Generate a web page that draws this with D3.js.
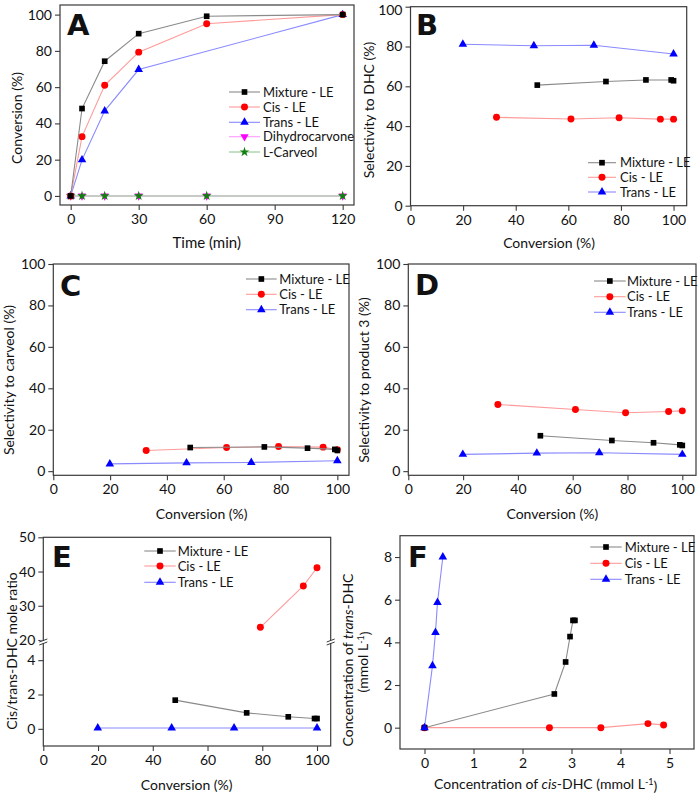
<!DOCTYPE html>
<html><head><meta charset="utf-8">
<script src="https://cdn.jsdelivr.net/npm/d3@7"></script>
<style>
body{margin:0;background:#fff;}
text{font-family:Lato,"Open Sans",sans-serif;fill:#111;}
</style></head>
<body>
<script>
// ---------- DATA ----------
// Panel A: conversion vs time
const timeA = [0, 5, 15, 30, 60, 120];
const timeTransA = [0, 5, 15, 30, 120];
const convMixA = [0, 48.2, 74.3, 89.5, 99.1, 100];
const convCisA = [0, 32.7, 61, 79.3, 95, 100];
const convTransA = [0, 19.9, 46.9, 69.7, 100];
const dhcA = [0, 0, 0, 0, 0, 0];
const carveolA = [0, 0, 0, 0, 0, 0];

// Conversion (x) for panels B–E
const convMix = [48.2, 74.3, 89.5, 99.1, 100];
const convCis = [32.7, 61, 79.3, 95, 100];
const convTrans = [19.9, 46.9, 69.7, 100];

// Panel B: selectivity to DHC
const selDhcMix = [60.6, 62.4, 63.2, 63.2, 62.8];
const selDhcCis = [44.4, 43.6, 44.2, 43.5, 43.5];
const selDhcTrans = [81.1, 80.4, 80.6, 76.2];

// Panel C: selectivity to carveol
const selCarMix = [11.4, 11.7, 11.1, 10.5, 10.0];
const selCarCis = [10.0, 11.4, 11.9, 11.6, 10.3];
const selCarTrans = [3.5, 4.0, 4.2, 5.0];

// Panel D: selectivity to product 3
const selP3Mix = [17.1, 14.8, 13.7, 12.7, 12.4];
const selP3Cis = [32.2, 29.8, 28.2, 28.8, 29.1];
const selP3Trans = [8.1, 8.7, 8.9, 8.1];

// Panel E: cis/trans-DHC mole ratio
const convCisE = [79.3, 95, 100];
const ratioMix = [1.67, 0.93, 0.70, 0.60, 0.60];
const ratioCis = [23.7, 35.8, 41.1];
const ratioTrans = [0.05, 0.05, 0.05, 0.05];

// Panel F: concentrations (mmol/L)
const cisDhcMix = [0, 2.65, 2.88, 2.97, 3.03, 3.07];
const transDhcMix = [0, 1.58, 3.08, 4.27, 5.03, 5.03];
const cisDhcCis = [0, 2.55, 3.6, 4.56, 4.88];
const transDhcCis = [0, 0, 0, 0.19, 0.13];
const cisDhcTrans = [0, 0.163, 0.224, 0.265, 0.374];
const transDhcTrans = [0, 2.9, 4.46, 5.87, 8.0];

// Tick values
const ticksTime = [0, 30, 60, 90, 120];
const ticksPct = [0, 20, 40, 60, 80, 100];
const ticksEUpper = [20, 30, 40, 50];
const ticksELower = [0, 2, 4];
const ticksFx = [0, 1, 2, 3, 4, 5];
const ticksFy = [0, 2, 4, 6, 8];

const seriesNames = ["Mixture - LE", "Cis - LE", "Trans - LE"];
const seriesNamesA = ["Mixture - LE", "Cis - LE", "Trans - LE", "Dihydrocarvone", "L-Carveol"];

// ---------- STYLE ----------
const STY = {
  mix:   {line: "#8a8a8a", fill: "#000000", sym: d3.symbolSquare, size: 32, rot: 0},
  cis:   {line: "#ff9a9a", fill: "#ff0000", sym: d3.symbolCircle, size: 38, rot: 0},
  trans: {line: "#8a8aff", fill: "#0000ff", sym: d3.symbolTriangle, size: 32, rot: 0},
  dhc:   {line: "#ff9aff", fill: "#ff00ff", sym: d3.symbolTriangle, size: 30, rot: 180},
  car:   {line: "#90c890", fill: "#108010", sym: d3.symbolStar, size: 30, rot: 0}
};
const FRAME = "#3a3a3a";

const svg = d3.select("body").append("svg").attr("width", 698).attr("height", 794);

function zip(a, b) { return a.map((v, i) => [v, b[i]]); }

function styleAxis(sel) {
  sel.select(".domain").remove();
  sel.selectAll(".tick line").attr("stroke", FRAME).attr("stroke-width", 1.1);
  sel.selectAll(".tick text").style("font-size", "14px").style("font-family", "Lato, sans-serif").attr("fill", "#111");
}

function drawSeries(g, x, y, pts, st) {
  g.append("path").datum(pts)
    .attr("fill", "none").attr("stroke", st.line).attr("stroke-width", 1.1)
    .attr("d", d3.line().x(d => x(d[0])).y(d => y(d[1])));
  g.selectAll(null).data(pts).enter().append("path")
    .attr("d", d3.symbol().type(st.sym).size(st.size))
    .attr("fill", st.fill)
    .attr("transform", d => `translate(${x(d[0])},${y(d[1])}) rotate(${st.rot})`);
}

function drawLegend(g, lg, names, styles) {
  names.forEach((n, i) => {
    const st = styles[i], yy = lg.rows[i];
    g.append("line").attr("x1", lg.x1).attr("x2", lg.x2).attr("y1", yy).attr("y2", yy)
      .attr("stroke", st.line).attr("stroke-width", 1.1);
    g.append("path").attr("d", d3.symbol().type(st.sym).size(st.size))
      .attr("fill", st.fill)
      .attr("transform", `translate(${(lg.x1 + lg.x2) / 2},${yy}) rotate(${st.rot})`);
    g.append("text").attr("x", lg.tx).attr("y", yy).attr("dy", "0.36em")
      .style("font-size", "13px").text(n);
  });
}

function letter(g, t, x, y) {
  g.append("text").attr("x", x).attr("y", y).text(t)
    .style("font-family", "'DejaVu Sans', sans-serif").style("font-weight", "bold")
    .style("font-size", "29px").attr("fill", "#000");
}

function yTitle(g, cx, cy, build, fs) {
  const t = g.append("text").attr("transform", `translate(${cx},${cy}) rotate(-90)`)
    .attr("text-anchor", "middle").attr("dy", "0.35em").style("font-size", (fs || 14) + "px");
  build(t);
}
function xTitle(g, cx, cy, build, fs) {
  const t = g.append("text").attr("x", cx).attr("y", cy)
    .attr("text-anchor", "middle").attr("dy", "0.35em").style("font-size", (fs || 14) + "px");
  build(t);
}

function basePanel(p) {
  const g = svg.append("g");
  const x = d3.scaleLinear().domain(p.xDomain).range([p.L, p.R]);
  const y = d3.scaleLinear().domain(p.yDomain).range([p.B, p.T]);
  g.append("rect").attr("x", p.L).attr("y", p.T).attr("width", p.R - p.L).attr("height", p.B - p.T)
    .attr("fill", "none").attr("stroke", FRAME).attr("stroke-width", 1.2);
  g.append("g").attr("transform", `translate(0,${p.B})`)
    .call(d3.axisBottom(x).tickValues(p.xTicks).tickSize(5).tickPadding(4).tickFormat(d3.format("d")))
    .call(styleAxis);
  const ya = g.append("g").attr("transform", `translate(${p.L},0)`)
    .call(d3.axisLeft(y).tickValues(p.yTicks).tickSize(5).tickPadding(3).tickFormat(d3.format("d")))
    .call(styleAxis);
  return {g, x, y, ya};
}

// ---------- PANEL A ----------
(function () {
  const {g, x, y} = basePanel({L: 60, R: 354, T: 5, B: 205, xDomain: [-4.72, 125], yDomain: [-5, 105.3],
    xTicks: ticksTime, yTicks: ticksPct});
  drawSeries(g, x, y, zip(timeA, dhcA), STY.dhc);
  drawSeries(g, x, y, zip(timeA, carveolA), STY.car);
  drawSeries(g, x, y, zip(timeTransA, convTransA), STY.trans);
  drawSeries(g, x, y, zip(timeA, convCisA), STY.cis);
  drawSeries(g, x, y, zip(timeA, convMixA), STY.mix);
  drawLegend(g, {x1: 229, x2: 260, tx: 263, rows: [92, 107, 122.3, 136.7, 152]}, seriesNamesA,
    [STY.mix, STY.cis, STY.trans, STY.dhc, STY.car]);
  letter(g, "A", 67, 35);
  yTitle(g, 17, 118, t => t.text("Conversion (%)"));
  xTitle(g, 206.7, 243, t => t.text("Time (min)"), 15);
})();

// ---------- PANEL B ----------
(function () {
  const {g, x, y, ya} = basePanel({L: 410.5, R: 686.7, T: 6.7, B: 205.7, xDomain: [0, 105], yDomain: [0, 100],
    xTicks: ticksPct, yTicks: ticksPct});
  // keep the top tick label inside the picture
  ya.selectAll(".tick").filter(d => d === 100).select("text").attr("y", 3);
  drawSeries(g, x, y, zip(convTrans, selDhcTrans), STY.trans);
  drawSeries(g, x, y, zip(convMix, selDhcMix), STY.mix);
  drawSeries(g, x, y, zip(convCis, selDhcCis), STY.cis);
  drawLegend(g, {x1: 588, x2: 616, tx: 620, rows: [162.7, 177.3, 192]}, seriesNames, [STY.mix, STY.cis, STY.trans]);
  letter(g, "B", 416, 35);
  yTitle(g, 369, 110, t => t.text("Selectivity to DHC (%)"));
  xTitle(g, 549, 242.7, t => t.text("Conversion (%)"));
})();

// ---------- PANEL C ----------
(function () {
  const {g, x, y} = basePanel({L: 53.3, R: 349, T: 264, B: 475.3, xDomain: [0, 104.1], yDomain: [-2, 100],
    xTicks: ticksPct, yTicks: ticksPct});
  drawSeries(g, x, y, zip(convTrans, selCarTrans), STY.trans);
  drawSeries(g, x, y, zip(convCis, selCarCis), STY.cis);
  drawSeries(g, x, y, zip(convMix, selCarMix), STY.mix);
  drawLegend(g, {x1: 246, x2: 276.7, tx: 279.3, rows: [279, 294.3, 309.7]}, seriesNames, [STY.mix, STY.cis, STY.trans]);
  letter(g, "C", 60, 296);
  yTitle(g, 9, 380, t => t.text("Selectivity to carveol (%)"));
  xTitle(g, 201.7, 514.3, t => t.text("Conversion (%)"));
})();

// ---------- PANEL D ----------
(function () {
  const {g, x, y} = basePanel({L: 408.3, R: 696, T: 264, B: 475.3, xDomain: [0, 105], yDomain: [-2, 100],
    xTicks: ticksPct, yTicks: ticksPct});
  drawSeries(g, x, y, zip(convTrans, selP3Trans), STY.trans);
  drawSeries(g, x, y, zip(convMix, selP3Mix), STY.mix);
  drawSeries(g, x, y, zip(convCis, selP3Cis), STY.cis);
  drawLegend(g, {x1: 594, x2: 625.7, tx: 627, rows: [281, 296.7, 312.3]}, seriesNames, [STY.mix, STY.cis, STY.trans]);
  letter(g, "D", 415, 295);
  yTitle(g, 364, 380, t => t.text("Selectivity to product 3 (%)"));
  xTitle(g, 552.3, 514.3, t => t.text("Conversion (%)"));
})();

// ---------- PANEL E (broken y axis) ----------
(function () {
  const L = 43.3, R = 330.7, T = 537.3, B = 746;
  const g = svg.append("g");
  const x = d3.scaleLinear().domain([0, 105]).range([L, R]);
  const yU = d3.scaleLinear().domain([20, 50]).range([640, T]);
  const yL = d3.scaleLinear().domain([-1, 5]).range([B, 643]);
  const y = v => (v >= 19 ? yU(v) : yL(v));
  g.append("rect").attr("x", L).attr("y", T).attr("width", R - L).attr("height", B - T)
    .attr("fill", "none").attr("stroke", FRAME).attr("stroke-width", 1.2);
  g.append("g").attr("transform", `translate(0,${B})`)
    .call(d3.axisBottom(x).tickValues(ticksPct).tickSize(5).tickPadding(4).tickFormat(d3.format("d")))
    .call(styleAxis);
  g.append("g").attr("transform", `translate(${L},0)`)
    .call(d3.axisLeft(yU).tickValues(ticksEUpper).tickSize(5).tickPadding(3).tickFormat(d3.format("d")))
    .call(styleAxis);
  g.append("g").attr("transform", `translate(${L},0)`)
    .call(d3.axisLeft(yL).tickValues(ticksELower).tickSize(5).tickPadding(3).tickFormat(d3.format("d")))
    .call(styleAxis);
  // axis break marks
  [L, R].forEach(ax => {
    g.append("rect").attr("x", ax - 3).attr("y", 640.5).attr("width", 6).attr("height", 2.5).attr("fill", "#fff");
    [640.5, 643.5].forEach(yy => {
      g.append("line").attr("x1", ax - 4).attr("x2", ax + 4).attr("y1", yy + 1.5).attr("y2", yy - 1.5)
        .attr("stroke", FRAME).attr("stroke-width", 1);
    });
  });
  drawSeries(g, x, y, zip(convTrans, ratioTrans), STY.trans);
  drawSeries(g, x, y, zip(convMix, ratioMix), STY.mix);
  drawSeries(g, x, y, zip(convCisE, ratioCis), STY.cis);
  drawLegend(g, {x1: 144.3, x2: 175.7, tx: 177.7, rows: [551, 566, 582.3]}, seriesNames, [STY.mix, STY.cis, STY.trans]);
  letter(g, "E", 52, 567);
  yTitle(g, 12, 651, t => t.text("Cis/trans-DHC mole ratio"));
  xTitle(g, 186.7, 785, t => t.text("Conversion (%)"));
})();

// ---------- PANEL F ----------
(function () {
  const {g, x, y} = basePanel({L: 400, R: 694, T: 535.7, B: 749, xDomain: [-0.5, 5.5], yDomain: [-1, 9],
    xTicks: ticksFx, yTicks: ticksFy});
  drawSeries(g, x, y, zip(cisDhcCis, transDhcCis), STY.cis);
  drawSeries(g, x, y, zip(cisDhcMix, transDhcMix), STY.mix);
  drawSeries(g, x, y, zip(cisDhcTrans, transDhcTrans), STY.trans);
  drawLegend(g, {x1: 590.3, x2: 621.7, tx: 624.7, rows: [547, 563.3, 579.3]}, seriesNames, [STY.mix, STY.cis, STY.trans]);
  letter(g, "F", 408, 567);
  yTitle(g, 348, 660, t => {
    t.append("tspan").text("Concentration of ");
    t.append("tspan").style("font-style", "italic").text("trans");
    t.append("tspan").text("-DHC");
  });
  yTitle(g, 363, 662, t => {
    t.append("tspan").text("(mmol L");
    t.append("tspan").attr("dy", "-0.45em").style("font-size", "9px").text("-1");
    t.append("tspan").attr("dy", "0.45em").text(")");
  });
  xTitle(g, 545.7, 784, t => {
    t.append("tspan").text("Concentration of ");
    t.append("tspan").style("font-style", "italic").text("cis");
    t.append("tspan").text("-DHC (mmol L");
    t.append("tspan").attr("dy", "-0.45em").style("font-size", "9px").text("-1");
    t.append("tspan").attr("dy", "0.45em").text(")");
  });
})();
</script>
</body></html>
